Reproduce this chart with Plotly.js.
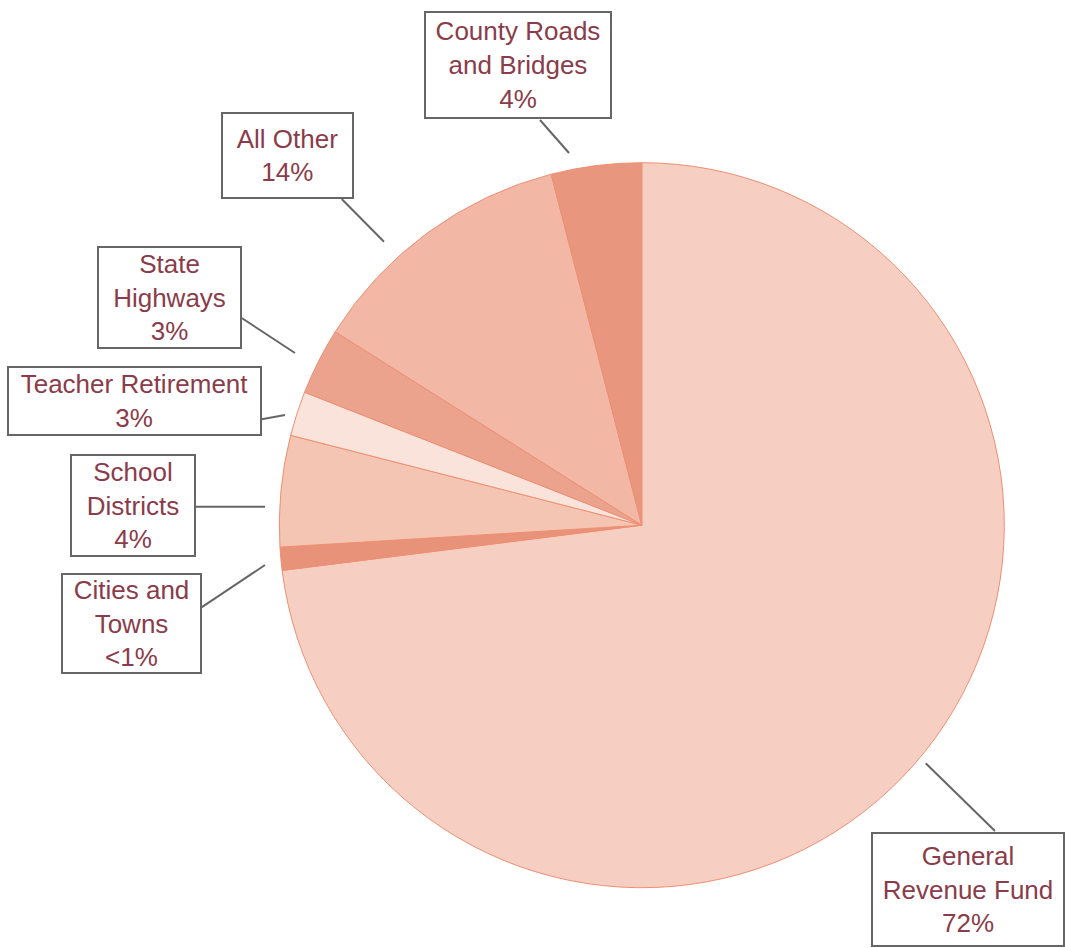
<!DOCTYPE html>
<html>
<head>
<meta charset="utf-8">
<script src="https://cdn.plot.ly/plotly-3.0.1.min.js"></script>
<style>
  html, body { margin: 0; padding: 0; background: #ffffff; }
  #chart { width: 1065px; height: 948px; }
</style>
</head>
<body>
<div id="chart"></div>
<script>
// ---- Data ----
const categories = ["General Revenue Fund", "Cities and Towns", "School Districts", "Teacher Retirement", "State Highways", "All Other", "County Roads and Bridges"];
const shares = [73.0, 1.03, 4.95, 1.99, 2.98, 12.02, 4.02];
const shareLabels = ["72%", "<1%", "4%", "3%", "3%", "14%", "4%"];
const labelLines = [["General", "Revenue Fund"], ["Cities and", "Towns"], ["School", "Districts"], ["Teacher Retirement"], ["State", "Highways"], ["All Other"], ["County Roads", "and Bridges"]];
const sliceColors = ["#F6CFC2", "#E8927A", "#F4C5B3", "#FAE3DA", "#EBA38D", "#F2B8A5", "#E9967E"];

// ---- Layout helpers ----
const W = 1065, H = 948;
const px = x => x / W;
const py = y => 1 - y / H;

// label boxes: [centerX, centerY, outerW, outerH] in pixels
const boxes = [
  [968, 889.5, 192, 113],
  [131.5, 623.5, 139, 99],
  [133, 505.5, 124, 101],
  [134.5, 401, 253, 68],
  [169.5, 297.5, 143, 101],
  [287.5, 155.5, 131, 85],
  [518, 65, 186, 106]
];
// leader lines: [x0, y0, x1, y1] in pixels
const leaders = [
  [925.7, 763.3, 995, 831],
  [200, 608.3, 265, 565],
  [194, 506.7, 265, 506.7],
  [261.7, 419.3, 285, 415],
  [241.7, 318, 295, 353],
  [341.7, 199, 384, 241.7],
  [540, 120, 569, 153]
];

const trace = {
  type: "pie",
  labels: categories,
  values: shares,
  sort: false,
  direction: "clockwise",
  rotation: 0,
  textinfo: "none",
  hoverinfo: "label+percent",
  marker: { colors: sliceColors, line: { color: "#EE8F72", width: 1 } },
  domain: { x: [279.3 / W, 1004.3 / W], y: [py(887.7), py(162.7)] },
  showlegend: false
};

const annotations = categories.map((c, i) => {
  const b = boxes[i];
  return {
    xref: "paper", yref: "paper",
    x: px(b[0]), y: py(b[1]),
    xanchor: "center", yanchor: "middle",
    text: labelLines[i].concat([shareLabels[i]]).join("<br>"),
    showarrow: false,
    align: "center",
    valign: "middle",
    width: b[2] - 2,
    height: b[3] - 2,
    bordercolor: "#666666",
    borderwidth: 2,
    borderpad: 0,
    bgcolor: "#ffffff",
    font: { family: "Liberation Sans, Arial, sans-serif", size: 26, color: "#8B3C4A" }
  };
});

const shapes = leaders.map(l => ({
  type: "line", xref: "paper", yref: "paper",
  x0: px(l[0]), y0: py(l[1]), x1: px(l[2]), y1: py(l[3]),
  line: { color: "#666666", width: 2 }
}));

const layout = {
  width: W, height: H,
  margin: { l: 0, r: 0, t: 0, b: 0 },
  paper_bgcolor: "#ffffff",
  plot_bgcolor: "#ffffff",
  showlegend: false,
  annotations: annotations,
  shapes: shapes
};

Plotly.newPlot("chart", [trace], layout, { displayModeBar: false, staticPlot: true });
</script>
</body>
</html>
